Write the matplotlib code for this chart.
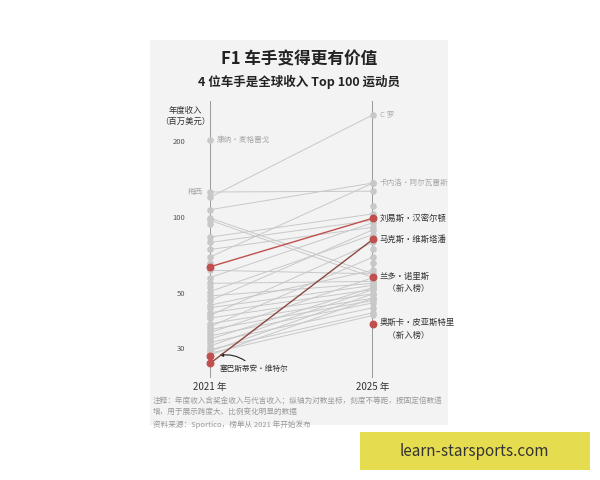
import matplotlib
matplotlib.use("Agg")
import matplotlib.pyplot as plt
from matplotlib.patches import Rectangle

plt.rcParams['font.family'] = ['Noto Sans CJK SC', 'DejaVu Sans']

# gray athletes (2021, 2025) in million USD
gray_2021 = [121, 127, 108, 100, 98, 84, 80, 75, 70, 62, 58, 55, 51, 49, 47, 45, 44, 42, 41, 40,
             38, 37, 36, 35, 34, 33, 32, 31, 30, 29.5, 29, 28.5]
gray_2025 = [258, 128, 138, 60, 58, 104, 98, 92, 138, 60, 96, 56, 86, 55, 90, 62, 54, 52, 80, 50,
             48, 70, 47, 58, 46, 53, 44, 52, 42, 50, 41, 48]
gray_only_2021 = [205, 95, 66, 53]
gray_only_2025 = [112, 75, 66]
# F1 drivers
f1_names = ['刘易斯·汉密尔顿', '马克斯·维斯塔潘']
f1_2021 = [64, 26.4]
f1_2025 = [100, 82.5]
f1_line_colors = ['#c0504d', '#8b4a3c']
vettel_2021 = 28.3
new_names = ['兰多·诺里斯\n    （新入榜）', '奥斯卡·皮亚斯特里\n    （新入榜）']
new_2025 = [58.4, 38]
yticks = [30, 50, 100, 200]
years = ['2021 年', '2025 年']

fig = plt.figure(figsize=(6, 4.8), dpi=100)
bg = fig.add_axes([0, 0, 1, 1], zorder=-5)
bg.set_xlim(0, 1); bg.set_ylim(0, 1); bg.axis('off')
bg.add_patch(Rectangle((0.25, 0.115), 0.497, 0.802, facecolor='#f3f3f3', edgecolor='none'))
bg.add_patch(Rectangle((0.6, 0.021), 0.383, 0.079, facecolor='#e6dc50', edgecolor='none', zorder=5))
bg.text(0.79, 0.06, 'learn-starsports.com', fontsize=11, color='#333', ha='center', va='center', zorder=6)
bg.text(0.498, 0.877, 'F1 车手变得更有价值', fontsize=12, weight='bold', ha='center', va='center', color='#222')
bg.text(0.498, 0.83, '4 位车手是全球收入 Top 100 运动员', fontsize=9, weight='bold', ha='center', va='center', color='#222')
bg.text(0.255, 0.14, '注释：年度收入含奖金收入与代言收入；纵轴为对数坐标，刻度不等距，按固定倍数递\n增，用于展示跨度大、比例变化明显的数据\n资料来源：Sportico，榜单从 2021 年开始发布',
        fontsize=5.5, color='#999', va='center', linespacing=1.5)

ax = fig.add_axes([0.35, 0.2125, 0.272, 0.5775], zorder=1)
ax.set_facecolor('none')
ax.set_yscale('log')
ax.set_ylim(23.1, 293)
ax.set_xlim(0, 1)
for s in ax.spines.values():
    s.set_visible(False)
ax.set_xticks([])
ax.set_yticks([])
ax.minorticks_off()
ax.axvline(0, color='#8a8a8a', lw=1.2, zorder=1)
ax.axvline(1, color='#8a8a8a', lw=1.2, zorder=1)

gc = '#c8c8c8'
for a, b in zip(gray_2021, gray_2025):
    ax.plot([0, 1], [a, b], color=gc, lw=0.7, zorder=2)
ax.scatter([0]*len(gray_2021 + gray_only_2021), gray_2021 + gray_only_2021, s=14, color=gc, zorder=3, clip_on=False)
ax.scatter([1]*len(gray_2025 + gray_only_2025), gray_2025 + gray_only_2025, s=14, color=gc, zorder=3, clip_on=False)

for a, b, c in zip(f1_2021, f1_2025, f1_line_colors):
    ax.plot([0, 1], [a, b], color=c, lw=1.0, zorder=4)
red = '#c0504d'
ax.scatter([0, 0, 0], f1_2021 + [vettel_2021], s=22, color=red, zorder=5, clip_on=False)
ax.scatter([1]*4, f1_2025 + new_2025, s=22, color=red, zorder=5, clip_on=False)

for n, v in zip(f1_names, f1_2025):
    ax.text(1.04, v, n, fontsize=6, color='#333', va='center', clip_on=False)
for n, v in zip(new_names, new_2025):
    ax.text(1.04, v * 1.05, n, fontsize=6, color='#333', va='top', ha='left', linespacing=1.5)
ax.text(0.04, 205, '康纳·麦格雷戈', fontsize=5.5, color='#aaa', va='center')
ax.text(-0.04, 127, '梅西', fontsize=5.5, color='#aaa', va='center', ha='right')
ax.text(1.04, 258, 'C 罗', fontsize=5.5, color='#aaa', va='center')
ax.text(1.04, 138, '卡内洛·阿尔瓦雷斯', fontsize=5.5, color='#aaa', va='center')
ax.annotate('塞巴斯蒂安·维特尔', xy=(0.04, 28.3), xytext=(0.06, 24.6), fontsize=5.5, color='#333',
            arrowprops=dict(arrowstyle='-|>', color='#222', lw=0.8, connectionstyle='arc3,rad=0.3'))
for t in yticks:
    ax.text(-0.15, t, str(t), fontsize=5.5, color='#555', ha='right', va='center')
ax.text(-0.15, 255, '年度收入\n（百万美元）', fontsize=6, color='#333', ha='center', va='center')
for x, y in zip([0, 1], years):
    ax.text(x, 22.3, y, fontsize=7, color='#333', ha='center', va='top')

fig.savefig('out.png', dpi=100, facecolor='white')
